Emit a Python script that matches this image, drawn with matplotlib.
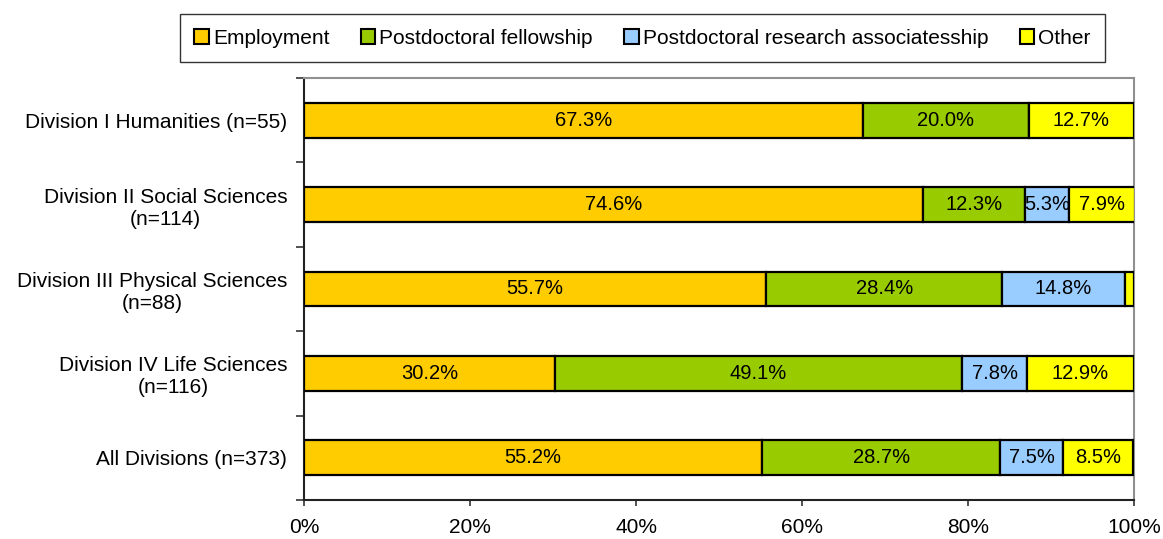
import matplotlib
matplotlib.use("Agg")
import matplotlib.pyplot as plt
from matplotlib.patches import Patch
from matplotlib.ticker import FixedLocator, FuncFormatter

plt.rcParams['font.family'] = ['Liberation Sans', 'DejaVu Sans']

categories = ["Division I Humanities (n=55)",
              "Division II Social Sciences\n(n=114)",
              "Division III Physical Sciences\n(n=88)",
              "Division IV Life Sciences\n(n=116)",
              "All Divisions (n=373)"]
series_names = ["Employment", "Postdoctoral fellowship",
                "Postdoctoral research associatesship", "Other"]
employment = [67.3, 74.6, 55.7, 30.2, 55.2]
fellowship = [20.0, 12.3, 28.4, 49.1, 28.7]
associate = [0.0, 5.3, 14.8, 7.8, 7.5]
other = [12.7, 7.9, 1.1, 12.9, 8.5]
colors = ["#FFCC00", "#99CC00", "#99CCFF", "#FFFF00"]
xticks = [0, 20, 40, 60, 80, 100]

series = [employment, fellowship, associate, other]

fig = plt.figure(figsize=(11.63, 5.39), dpi=100)
ax = fig.add_axes([304/1163, 1-500/539, (1134-304)/1163, (500-78)/539])

n = len(categories)
ypos = list(range(n))
left = [0.0]*n
for vals, col in zip(series, colors):
    ax.barh(ypos, vals, left=left, height=0.41, color=col,
            edgecolor='black', linewidth=1.6, zorder=3)
    for i, v in enumerate(vals):
        if v >= 2:
            ax.text(left[i] + v/2, ypos[i], f"{v:.1f}%", ha='center',
                    va='center', fontsize=14.5, zorder=4)
    left = [l + v for l, v in zip(left, vals)]

ax.set_xlim(0, 100)
ax.set_ylim(n - 0.5, -0.5)
ax.set_yticks(ypos)
ax.set_yticklabels(categories, fontsize=15, multialignment='center')
ax.yaxis.set_minor_locator(FixedLocator([i - 0.5 for i in range(n + 1)]))
ax.tick_params(axis='y', which='major', length=0, pad=12)
ax.tick_params(axis='y', which='minor', length=6, width=1.2, color='#333333')
ax.set_xticks(xticks)
ax.xaxis.set_major_formatter(FuncFormatter(lambda v, p: f"{v:.0f}%"))
ax.tick_params(axis='x', length=4, width=1.2, labelsize=15, pad=9, color='#333333')

for s in ['left', 'bottom']:
    ax.spines[s].set_color('#222222')
    ax.spines[s].set_linewidth(1.5)
for s in ['top', 'right']:
    ax.spines[s].set_color('#909090')
    ax.spines[s].set_linewidth(1.5)

handles = [Patch(facecolor=c, edgecolor='black', linewidth=1.5) for c in colors]
leg = fig.legend(handles, series_names, loc='center',
                 bbox_to_anchor=((178+1107)/2/1163, 1-38/539), ncol=4,
                 fontsize=15, frameon=True, fancybox=False, edgecolor='black',
                 handlelength=0.7, handleheight=0.7, handletextpad=0.2,
                 columnspacing=1.5, borderpad=0.7)
leg.get_frame().set_linewidth(1.0)

fig.savefig("out.png", dpi=100)
